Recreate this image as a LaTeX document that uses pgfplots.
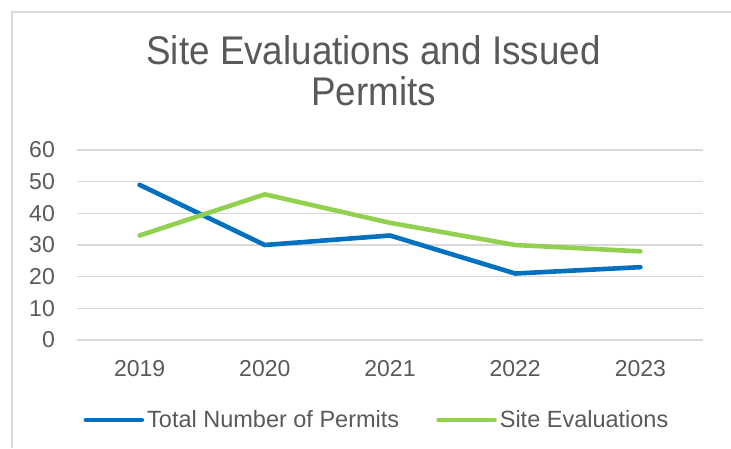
\documentclass[border=0pt]{standalone}
\usepackage{fontspec}
\setmainfont{Liberation Sans}
\newfontfamily\titlefont[FakeStretch=0.92]{Liberation Sans}
\usepackage{pgfplots}
\pgfplotsset{compat=1.18}

\definecolor{permblue}{HTML}{0070C0}
\definecolor{evalgreen}{HTML}{92D050}
\definecolor{txtgray}{HTML}{595959}
\definecolor{gridgray}{HTML}{D9D9D9}

\begin{document}
\begin{tikzpicture}
\useasboundingbox (0pt,0pt) rectangle (731pt,448pt);
% chart frame (only left and top edges are visible in the crop)
\draw[gridgray, line width=1.3pt] (12pt,0pt) -- (12pt,436pt) -- (731pt,436pt);

% title
\node[anchor=base, text=txtgray, font=\titlefont\fontsize{40}{41}\selectfont, inner sep=0pt]
  at (373.5pt,383pt) {Site Evaluations and Issued};
\node[anchor=base, text=txtgray, font=\titlefont\fontsize{40}{41}\selectfont, inner sep=0pt]
  at (373.5pt,342pt) {Permits};

\begin{axis}[
  at={(77pt,108pt)}, anchor=south west,
  scale only axis, width=626pt, height=190pt,
  xmin=-0.5, xmax=4.5, ymin=0, ymax=60,
  xtick={0,1,2,3,4},
  xticklabels={2019,2020,2021,2022,2023},
  ytick={0,10,...,60},
  ymajorgrids,
  grid style={draw=gridgray, line width=1.3pt},
  axis line style={draw=none},
  major tick length=0pt,
  /pgf/number format/assume math mode=true,
  ticklabel style={font=\fontsize{23}{23}\selectfont, text=txtgray, inner sep=0pt},
  yticklabel style={anchor=east, xshift=-22pt},
  xticklabel style={anchor=north, yshift=-20pt},
  legend columns=-1,
  legend style={draw=none, fill=none,
    at={(0.4776,-0.421)}, anchor=center,
    font=\fontsize{23.5}{23.5}\selectfont, text=txtgray,
    nodes={inner sep=0pt},
    /tikz/every odd column/.append style={column sep=3pt},
    /tikz/every even column/.append style={column sep=37pt}},
  legend image code/.code={\draw[#1] (0pt,0pt) -- (56pt,0pt);},
]
\addplot[permblue, line width=4.6pt, line cap=round, line join=round]
  coordinates {(0,49) (1,30) (2,33) (3,21) (4,23)};
\addplot[evalgreen, line width=4.6pt, line cap=round, line join=round]
  coordinates {(0,33) (1,46) (2,37) (3,30) (4,28)};
\legend{Total Number of Permits, Site Evaluations}
\end{axis}
\end{tikzpicture}
\end{document}
